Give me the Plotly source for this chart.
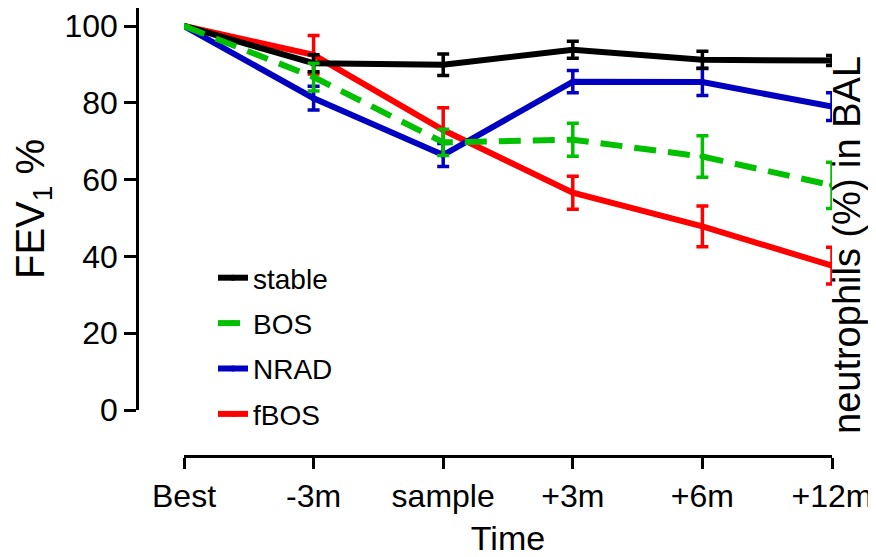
import plotly.graph_objects as go

categories = ["Best", "-3m", "sample", "+3m", "+6m", "+12m"]

stable = [100, 90.3, 89.9, 93.8, 91.2, 91.0]
stable_err = [0, 2.2, 2.8, 2.2, 2.2, 1.3]

bos = [100, 86.7, 69.7, 70.4, 66.0, 58.5]
bos_err = [0, 3.6, 3.4, 4.3, 5.4, 6.0]

nrad = [100, 81.2, 66.4, 85.5, 85.4, 79.0]
nrad_err = [0, 3.1, 3.0, 2.9, 3.5, 3.6]

fbos = [100, 92.5, 72.9, 56.6, 47.8, 37.6]
fbos_err = [0, 5.0, 5.8, 4.3, 5.3, 4.8]

y_ticks = [0, 20, 40, 60, 80, 100]

FONT = "Liberation Sans, Arial, sans-serif"

# (name, values, errors, colour, dash, legend rank) in drawing order
series = [
    ("fBOS", fbos, fbos_err, "#ff0000", "solid", 4),
    ("NRAD", nrad, nrad_err, "#0000c0", "solid", 3),
    ("stable", stable, stable_err, "#000000", "solid", 1),
    ("BOS", bos, bos_err, "#00c000", "22px,12px", 2),
]

x_idx = list(range(len(categories)))

fig = go.Figure()
for name, vals, errs, col, dash, rank in series:
    fig.add_trace(go.Scatter(
        x=x_idx, y=vals, name=name, mode="lines+markers",
        line=dict(color=col, width=6, dash=dash),
        marker=dict(color=col, size=6),
        error_y=dict(type="data", array=errs, visible=True,
                     color=col, thickness=3.5, width=6),
        legendgroup=name, legendrank=rank,
    ))

# figure coordinates (page is offset by the 8px body margin)
W, H = 868, 549
ml, mr, mt, mb = 129, 44, 0, 101
pw = W - ml - mr
ph = H - mt - mb
x_start = (176 - ml) / pw
y_start = (448 - 402) / ph
y_top = 402 / 3.84

fig.update_layout(
    width=W, height=H,
    margin=dict(l=ml, r=mr, t=mt, b=mb, autoexpand=False),
    paper_bgcolor="white", plot_bgcolor="white",
    font=dict(family=FONT, color="black"),
    showlegend=True,
    legend=dict(
        x=(205 - ml) / pw, y=(448 - 245) / ph, xanchor="left", yanchor="top",
        font=dict(size=28, family=FONT), bgcolor="rgba(0,0,0,0)",
        tracegroupgap=6, traceorder="grouped",
    ),
    xaxis=dict(
        domain=[x_start, 1], range=[0, 5], anchor="free", position=0,
        tickmode="array", tickvals=x_idx, ticktext=categories,
        showline=True, linecolor="black", linewidth=2.5,
        ticks="outside", ticklen=11, tickwidth=2.5, tickcolor="black",
        tickfont=dict(size=32, family=FONT),
        showgrid=False, zeroline=False,
        title=dict(text="Time", font=dict(size=34, family=FONT), standoff=17),
    ),
    yaxis=dict(
        domain=[y_start, 1], range=[0, y_top], anchor="free", position=0,
        tickmode="array", tickvals=y_ticks,
        showline=True, linecolor="black", linewidth=2.5,
        ticks="outside", ticklen=12, tickwidth=2.5, tickcolor="black",
        tickfont=dict(size=32, family=FONT),
        showgrid=False, zeroline=False,
        title=dict(text="FEV<sub>1</sub> %", font=dict(size=40, family=FONT), standoff=10),
    ),
)

fig.add_annotation(
    text="neutrophils (%) in BAL", textangle=-90,
    xref="paper", yref="paper",
    x=(839 - ml) / pw, y=(448 - 237) / ph, xanchor="center", yanchor="middle",
    showarrow=False, font=dict(size=38, family=FONT, color="black"),
)

fig.write_html("out.html")
